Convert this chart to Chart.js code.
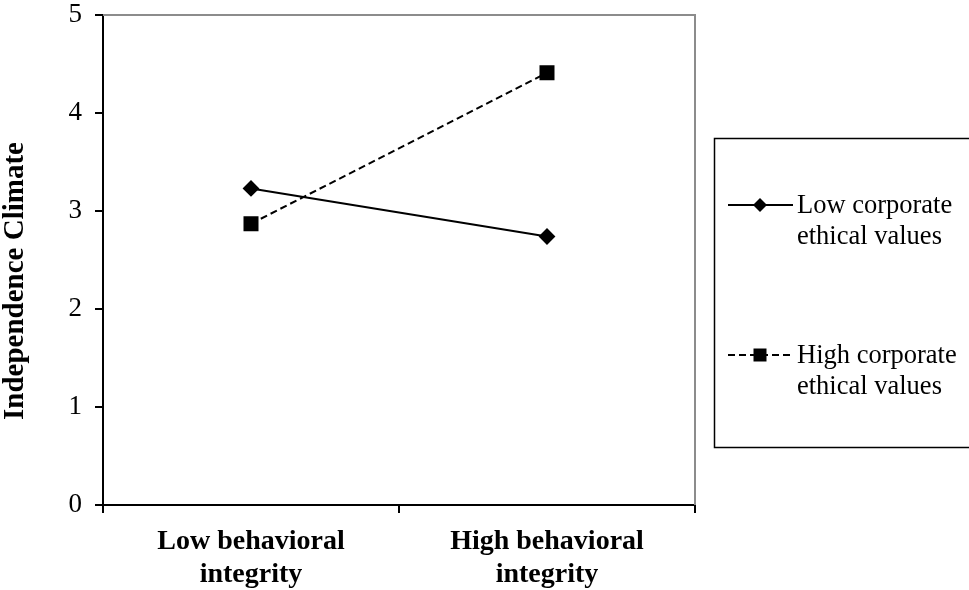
<!DOCTYPE html>
<html>
<head>
<meta charset="utf-8">
<script src="https://cdn.jsdelivr.net/npm/chart.js@4/dist/chart.umd.min.js"></script>
<style>
  html, body { margin: 0; padding: 0; background: #fff; }
  #wrap { width: 969px; height: 590px; }
</style>
</head>
<body>
<div id="wrap"><canvas id="lineChart" width="969" height="590"></canvas></div>
<script>
// data
var categories = [['Low behavioral', 'integrity'], ['High behavioral', 'integrity']];
var lowEthical = [3.23, 2.74];
var highEthical = [2.87, 4.41];
var seriesNames = [['Low corporate', 'ethical values'], ['High corporate', 'ethical values']];
var yTicks = [0, 1, 2, 3, 4, 5];
var yTitle = 'Independence Climate';

var serif = '"Liberation Serif", "Times New Roman", serif';

// grey frame on top/right of plot area + y title (sits a bit below centre in the original)
var framePlugin = {
    id: 'frame',
    beforeDatasetsDraw: function(chart) {
        var a = chart.chartArea, ctx = chart.ctx;
        ctx.save();
        ctx.strokeStyle = '#8c8c8c';
        ctx.lineWidth = 2;
        ctx.beginPath();
        ctx.moveTo(a.left, a.top);
        ctx.lineTo(a.right, a.top);
        ctx.lineTo(a.right, a.bottom);
        ctx.stroke();
        ctx.translate(16, 281);
        ctx.rotate(-Math.PI / 2);
        ctx.fillStyle = '#000';
        ctx.font = 'bold 29px ' + serif;
        ctx.textAlign = 'center';
        ctx.textBaseline = 'middle';
        ctx.fillText(yTitle, 0, 0);
        ctx.restore();
    }
};

function marker(ctx, style, x, y) {
    ctx.beginPath();
    if (style === 'rectRot') {
        ctx.moveTo(x, y - 7); ctx.lineTo(x + 7, y); ctx.lineTo(x, y + 7); ctx.lineTo(x - 7, y);
        ctx.closePath();
    } else {
        ctx.rect(x - 6.5, y - 6.5, 13, 13);
    }
    ctx.fill();
}

// boxed legend with two-line labels
var legendPlugin = {
    id: 'boxLegend',
    afterDraw: function(chart) {
        var ctx = chart.ctx;
        ctx.save();
        ctx.strokeStyle = '#000';
        ctx.lineWidth = 1.5;
        ctx.strokeRect(714.5, 138.5, 262, 309);
        var rows = [205, 355];
        chart.data.datasets.forEach(function(ds, i) {
            var y = rows[i];
            ctx.strokeStyle = '#000';
            ctx.fillStyle = '#000';
            ctx.lineWidth = 2;
            ctx.setLineDash(ds.borderDash || []);
            ctx.beginPath();
            ctx.moveTo(728, y);
            ctx.lineTo(793, y);
            ctx.stroke();
            ctx.setLineDash([]);
            marker(ctx, ds.pointStyle, 760, y);
            ctx.font = '26.5px ' + serif;
            ctx.textBaseline = 'middle';
            ctx.textAlign = 'left';
            seriesNames[i].forEach(function(line, j) {
                ctx.fillText(line, 797, y + 1 + j * 31);
            });
        });
        ctx.restore();
    }
};

new Chart(document.getElementById('lineChart').getContext('2d'), {
    type: 'line',
    data: {
        labels: categories,
        datasets: [{
            label: 'Low corporate ethical values',
            data: lowEthical,
            borderColor: '#000',
            backgroundColor: '#000',
            borderWidth: 2,
            pointStyle: 'rectRot',
            pointRadius: 7,
            pointHoverRadius: 7,
            tension: 0
        }, {
            label: 'High corporate ethical values',
            data: highEthical,
            borderColor: '#000',
            backgroundColor: '#000',
            borderWidth: 2,
            borderDash: [7, 4],
            pointStyle: 'rect',
            pointRadius: 9.2,
            pointHoverRadius: 9.2,
            tension: 0
        }]
    },
    options: {
        responsive: false,
        animation: false,
        events: [],
        layout: { padding: { left: 0, right: 274, top: 15, bottom: 0 } },
        plugins: {
            legend: { display: false },
            tooltip: { enabled: false }
        },
        scales: {
            x: {
                type: 'category',
                offset: true,
                grid: { offset: true, drawOnChartArea: false, drawTicks: true, tickLength: 8, color: '#000', lineWidth: 2 },
                border: { color: '#000', width: 2 },
                ticks: {
                    color: '#000',
                    padding: 12,
                    maxRotation: 0,
                    font: { family: serif, size: 28, weight: 'bold', lineHeight: 1.18 }
                },
                afterFit: function(s) { s.height = 85; s.paddingLeft = 0; s.paddingRight = 0; }
            },
            y: {
                min: 0,
                max: 5,
                afterBuildTicks: function(s) { s.ticks = yTicks.map(function(v) { return { value: v }; }); },
                grid: { drawOnChartArea: false, drawTicks: true, tickLength: 8, color: '#000', lineWidth: 2 },
                border: { color: '#000', width: 2 },
                ticks: {
                    color: '#000',
                    padding: 13,
                    font: { family: serif, size: 27 }
                },
                afterFit: function(s) { s.width = 103; s.paddingTop = 0; s.paddingBottom = 0; }
            }
        }
    },
    plugins: [framePlugin, legendPlugin]
});
</script>
</body>
</html>
